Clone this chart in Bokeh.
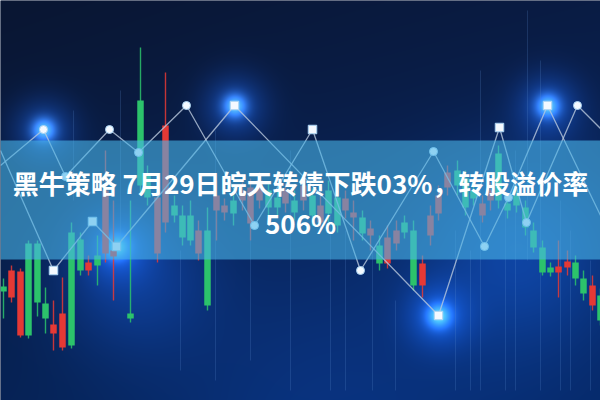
import numpy as np
from bokeh.plotting import figure
from bokeh.models import Range1d, ColumnDataSource
from bokeh.core.properties import value
from bokeh.embed import file_html
from bokeh.resources import INLINE

# ---------------- data ----------------
title_line1 = "黑牛策略 7月29日皖天转债下跌03%，转股溢价率"
title_line2 = "506%"

candle_x     = [3, 11, 20, 28, 37, 45, 53, 62, 71, 80, 88, 97, 105, 113, 130, 140, 147, 157, 165, 174,
                182, 190, 198, 207, 216, 224, 233, 242, 250, 259, 268, 277, 285, 294, 303, 312, 320, 328,
                337, 345, 353, 362, 370, 379, 387, 396, 404, 413, 422, 430, 438, 447, 457, 465, 473, 482,
                490, 498, 507, 516, 525, 533, 542, 550, 558, 567, 575, 583, 592, 600]
candle_open  = [109, 130, 129, 65, 98, 82, 76, 87, 55, 130, 138, 135, 210, 150, 82, 215, 203, 203, 275, 185,
                163, 160, 170, 95, 205, 195, 187, 210, 213, 220, 193, 193, 210, 188, 215, 185, 195, 187,
                175, 202, 188, 167, 172, 137, 163, 170, 168, 115, 137, 185, 205, 228, 215, 193, 202, 197,
                210, 200, 190, 195, 173, 153, 128, 128, 134, 139, 122, 107, 115, 80]
candle_close = [114, 103, 65, 157, 157, 97, 67, 53, 168, 161, 130, 145, 147, 144, 87, 300, 225, 147, 178, 195,
                185, 185, 147, 170, 190, 188, 200, 200, 177, 200, 210, 203, 197, 200, 200, 205, 178, 210,
                203, 190, 183, 183, 165, 155, 137, 157, 178, 170, 115, 165, 187, 213, 230, 222, 210, 185,
                200, 247, 197, 205, 193, 170, 153, 133, 128, 133, 138, 122, 95, 105]
candle_high  = [122, 135, 132, 160, 160, 113, 100, 123, 178, 168, 145, 165, 250, 200, 200, 353, 235, 215, 328, 205,
                195, 200, 180, 193, 220, 202, 210, 218, 222, 228, 218, 210, 217, 210, 222, 212, 205, 220,
                210, 210, 200, 190, 180, 165, 175, 180, 185, 180, 145, 195, 215, 235, 240, 230, 218, 205,
                218, 255, 205, 215, 200, 178, 160, 138, 160, 150, 145, 130, 125, 112]
candle_low   = [82, 98, 63, 62, 84, 67, 50, 50, 52, 125, 125, 115, 138, 100, 78, 205, 195, 138, 168, 178,
                155, 155, 140, 90, 160, 180, 175, 190, 160, 192, 185, 185, 188, 180, 190, 175, 170, 178,
                168, 182, 160, 160, 150, 130, 132, 150, 162, 110, 103, 155, 180, 205, 205, 185, 195, 178,
                190, 192, 182, 188, 165, 148, 125, 124, 103, 125, 115, 100, 90, 75]

streak_x      = [73, 120, 215, 290, 330, 345, 372, 395, 455, 470, 480, 505, 515, 527, 540, 560, 570, 590, 250, 180]
streak_top    = [290, 310, 270, 250, 200, 170, 150, 100, 170, 150, 330, 200, 250, 390, 340, 200, 170, 140, 160, 150]
streak_bottom = [200, 150, 20, 10, 10, 10, 10, 10, 10, 10, 10, 10, 10, 140, 10, 10, 10, 10, 40, 30]

line_a_x = [0, 43, 65, 109, 138, 186, 254, 312, 360, 433, 484, 508, 547, 600]
line_a_y = [235, 271, 224, 271, 248, 295, 175, 271, 130, 249, 154, 203, 295, 185]
line_b_x = [0, 53, 92, 116, 234, 438, 499, 526, 577, 600]
line_b_y = [250, 130, 179, 154, 295, 85, 273, 178, 295, 272]

circle_x = [43, 65, 109, 138, 186, 254, 360, 433, 484, 508, 526, 577]
circle_y = [271, 224, 271, 248, 295, 175, 130, 249, 154, 203, 178, 295]
square_x = [53, 92, 116, 234, 312, 438, 499, 547]
square_y = [130, 179, 154, 295, 271, 85, 273, 295]
glow_x = [43, 116, 234, 438, 547]
glow_y = [271, 154, 295, 85, 295]

# ---------------- background ----------------
H, W = 400, 600
yy, xx = np.mgrid[0:H, 0:W].astype(float)
t = (yy / (H - 1))[..., None]
top = np.array([10, 22, 50], float)
bot = np.array([6, 34, 84], float)
img = top * (1 - t) + bot * t
img += (xx / W)[..., None] * np.array([0, 6, 18], float)

def blob(cx, cy, s, col, k):
    g = np.exp(-((xx - cx) ** 2 + (yy - cy) ** 2) / (2 * s * s))
    return k * g[..., None] * np.array(col, float)

img += blob(130, 270, 55, (20, 80, 190), 0.35)
img += blob(520, 250, 70, (20, 90, 200), 0.35)
img += blob(320, 390, 130, (10, 45, 110), 0.3)
for gx, gy in zip(glow_x, glow_y):
    py = 400 - gy
    img += blob(gx, py, 22, (30, 110, 255), 0.35)
    img += blob(gx, py, 8, (90, 170, 255), 0.8)
img = np.clip(img, 0, 255).astype(np.uint8)
rgba = np.dstack([img, np.full((H, W, 1), 255, np.uint8)])
rgba = np.ascontiguousarray(np.flipud(rgba))
bg = rgba.view(dtype=np.uint32).reshape((H, W))

# ---------------- figure ----------------
p = figure(width=600, height=400, x_range=Range1d(0, 600), y_range=Range1d(0, 400),
           output_backend="svg", toolbar_location=None, min_border=0)
p.axis.visible = False
p.grid.visible = False
p.outline_line_color = None
p.background_fill_color = "#0a1a3c"
p.border_fill_color = "#0a1a3c"

p.image_rgba(image=[bg], x=0, y=0, dw=600, dh=400)

# streaks
p.segment(x0=streak_x, y0=streak_bottom, x1=streak_x, y1=streak_top,
          line_color="#5d8fd0", line_alpha=0.22, line_width=1)

# candles
up = [c > o for o, c in zip(candle_open, candle_close)]
colors = ["#2cc36b" if u else "#e53935" for u in up]
src = ColumnDataSource(dict(x=candle_x, o=candle_open, c=candle_close, h=candle_high,
                            l=candle_low, col=colors))
p.segment(x0="x", y0="l", x1="x", y1="h", line_color="col", line_width=1.4, line_alpha=0.85, source=src)
p.vbar(x="x", top="o", bottom="c", width=6.5, fill_color="col", line_color=None, source=src)

# zigzag lines
p.line(line_a_x, line_a_y, line_color="#b9c8dc", line_width=1.3, line_alpha=0.8)
p.line(line_b_x, line_b_y, line_color="#b9c8dc", line_width=1.3, line_alpha=0.8)
p.scatter(circle_x, circle_y, marker="circle", size=8, fill_color="#f4f9ff",
          line_color="#a9d2f2", line_width=1)
p.scatter(square_x, square_y, marker="square", size=8.5, fill_color="#f4f9ff",
          line_color="#a9d2f2", line_width=1)

# banner
p.quad(left=0, right=600, bottom=141, top=260, fill_color="#4ab6ea", fill_alpha=0.6, line_color=None)

# title text
p.text(x=[300], y=[218], text=[title_line1], text_align="center", text_baseline="middle",
       text_color="white", text_font=value("Noto Sans CJK SC"), text_font_style="bold",
       text_font_size="26px")
p.text(x=[300], y=[178], text=[title_line2], text_align="center", text_baseline="middle",
       text_color="white", text_font=value("Noto Sans CJK SC"), text_font_style="bold",
       text_font_size="26px")

open("out.html", "w").write(file_html(p, INLINE))
